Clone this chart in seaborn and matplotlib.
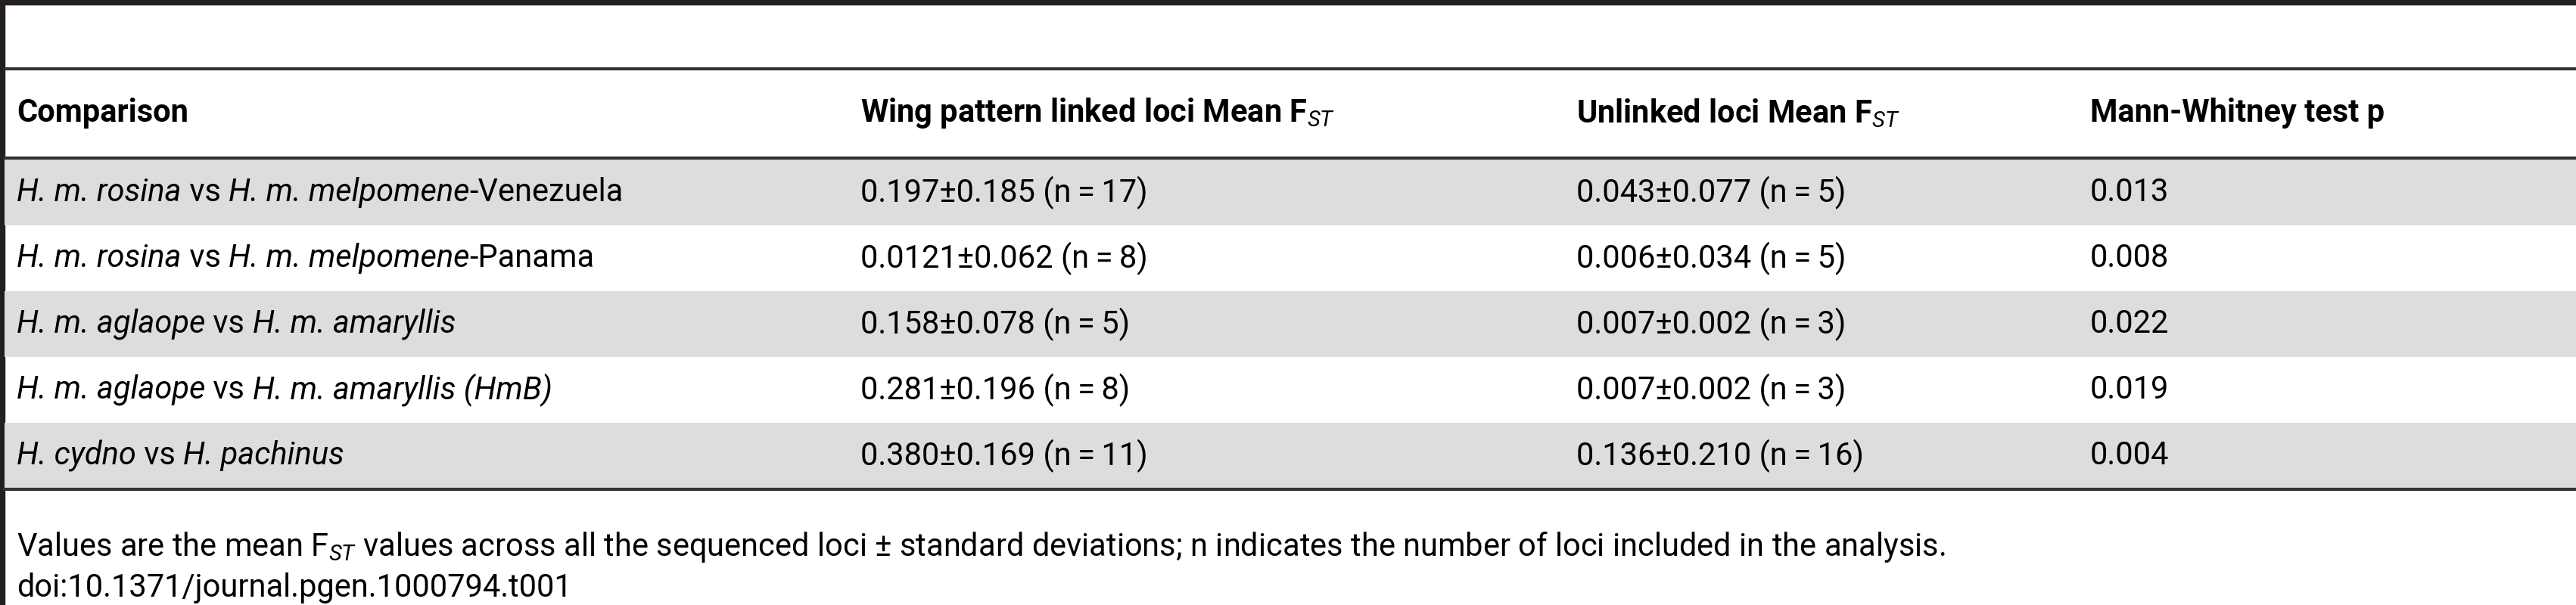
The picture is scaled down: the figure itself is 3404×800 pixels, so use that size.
import matplotlib.pyplot as plt
import seaborn as sns

sns.set_theme(style="white")
FAM = "Roboto"
plt.rcParams['font.family'] = [FAM, 'DejaVu Sans']
plt.rcParams['mathtext.fontset'] = 'custom'
plt.rcParams['mathtext.rm'] = FAM
plt.rcParams['mathtext.it'] = FAM + ':italic'
plt.rcParams['mathtext.bf'] = FAM + ':bold'
plt.rcParams['text.color'] = 'black'

headers = ["Comparison", "Wing pattern linked loci Mean F$_{ST}$",
           "Unlinked loci Mean F$_{ST}$", "Mann-Whitney test p"]
# each comparison label as (text, italic) pieces
comparisons = [
    [("H. m. rosina", True), (" vs ", False), ("H. m. melpomene", True), ("-Venezuela", False)],
    [("H. m. rosina", True), (" vs ", False), ("H. m. melpomene", True), ("-Panama", False)],
    [("H. m. aglaope", True), (" vs ", False), ("H. m. amaryllis", True)],
    [("H. m. aglaope", True), (" vs ", False), ("H. m. amaryllis (HmB)", True)],
    [("H. cydno", True), (" vs ", False), ("H. pachinus", True)],
]
linked = ["0.197\u00b10.185 (n\u2009=\u200917)", "0.0121\u00b10.062 (n\u2009=\u20098)",
          "0.158\u00b10.078 (n\u2009=\u20095)", "0.281\u00b10.196 (n\u2009=\u20098)",
          "0.380\u00b10.169 (n\u2009=\u200911)"]
unlinked = ["0.043\u00b10.077 (n\u2009=\u20095)", "0.006\u00b10.034 (n\u2009=\u20095)",
            "0.007\u00b10.002 (n\u2009=\u20093)", "0.007\u00b10.002 (n\u2009=\u20093)",
            "0.136\u00b10.210 (n\u2009=\u200916)"]
pvals = ["0.013", "0.008", "0.022", "0.019", "0.004"]
footnote = ("Values are the mean F$_{ST}$ values across all the sequenced loci \u00b1 standard "
            "deviations; n indicates the number of loci included in the analysis.")
doi = "doi:10.1371/journal.pgen.1000794.t001"

W, H = 3404, 800
fig = plt.figure(figsize=(W / 100, H / 100), dpi=100)
ax = fig.add_axes([0, 0, 1, 1])
ax.set_xlim(0, W)
ax.set_ylim(H, 0)
ax.axis('off')
renderer = fig.canvas.get_renderer()

col_x = [22, 1137, 2083, 2762]
top, rh = 209, 87
fs = 30

# frame lines
ax.axvspan(0, 6, color='#231f20')
ax.axhspan(0, 6, color='#231f20')
ax.axhline(91, xmin=6 / W, color='#333333', lw=3)
ax.axhline(top, xmin=6 / W, color='#333333', lw=3)

for j, h in enumerate(headers):
    ax.text(col_x[j], 150, h, fontsize=fs, fontweight='bold', va='center', ha='left')

inv = ax.transData.inverted()
for i in range(len(comparisons)):
    y0 = top + 2 + i * rh
    if i % 2 == 0:
        ax.axhspan(y0, y0 + rh, xmin=6 / W, color='#dcdddf', lw=0)
    yc = y0 + rh / 2
    x = col_x[0]
    for piece, ital in comparisons[i]:
        t = ax.text(x, yc, piece, fontsize=fs, va='center', ha='left',
                    style='italic' if ital else 'normal')
        bb = t.get_window_extent(renderer)
        # width with trailing spaces counted
        w = renderer.get_text_width_height_descent(piece.replace(" ", "\u00a0"),
                                                   t.get_fontproperties(), ismath=False)[0]
        x = inv.transform((bb.x0 + w, 0))[0]
    for j, val in enumerate([linked[i], unlinked[i], pvals[i]]):
        ax.text(col_x[j + 1], yc, val, fontsize=fs, va='center', ha='left')

ax.axhline(top + 2 + len(comparisons) * rh + 1, xmin=6 / W, color='#333333', lw=3)

ax.text(col_x[0], 723, footnote, fontsize=fs, va='center', ha='left')
ax.text(col_x[0], 777, doi, fontsize=fs, va='center', ha='left')

fig.savefig("out.png", dpi=100)
